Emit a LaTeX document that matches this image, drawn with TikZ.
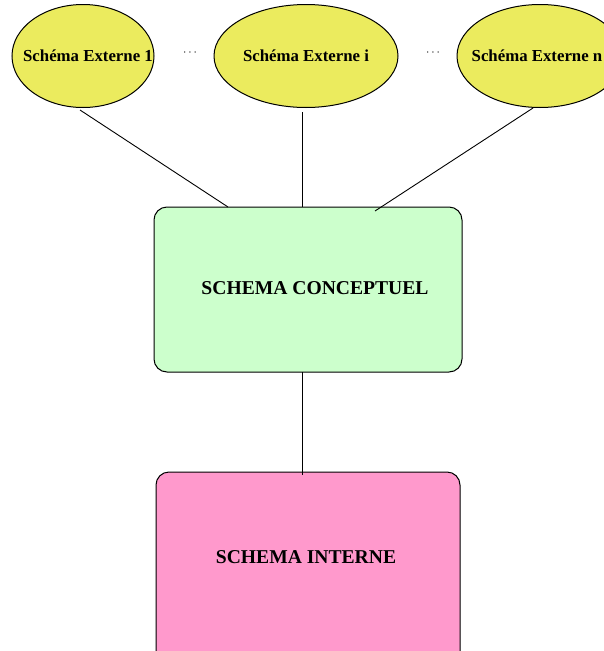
\documentclass[tikz,border=0pt]{standalone}
\usepackage{fontspec}
\setmainfont{Liberation Serif}
\usetikzlibrary{shapes.geometric}
\definecolor{extfill}{RGB}{235,235,94}
\definecolor{concfill}{RGB}{204,255,204}
\definecolor{intfill}{RGB}{255,153,204}
\tikzset{
  extfont/.style={font=\bfseries\fontsize{16.8}{19}\selectfont},
  extschema/.style={ellipse, draw, line width=1pt, fill=extfill, inner sep=0pt, extfont},
  levelfont/.style={font=\bfseries\fontsize{19.6}{22}\selectfont},
  levelbox/.style={rounded corners=13pt, draw, line width=1pt},
  link/.style={line width=0.9pt},
  gap/.style={font=\fontsize{13}{15}\selectfont},
}
\begin{document}
\begin{tikzpicture}[x=1pt,y=-1pt]
  \useasboundingbox (0,0) rectangle (604,651);
  % external schemas
  \node[extschema, minimum width=142pt, minimum height=103pt] (e1) at (83,56) {};
  \node[extfont] (t1) at (88,56) {Schéma Externe 1};
  \node[extschema, minimum width=184pt, minimum height=103pt] (ei) at (306,56) {Schéma Externe i};
  \node[extschema, minimum width=166pt, minimum height=103pt] (en) at (540,56) {};
  \node[extfont] (tn) at (537,56) {Schéma Externe n};
  \node[gap] (d1) at (190,53) {$\cdots$};
  \node[gap] (d2) at (433,53) {$\cdots$};
  % conceptual level
  \draw[levelbox, fill=concfill] (154,207) rectangle (462,372);
  \node[levelfont] (conc) at (315,288) {SCHEMA CONCEPTUEL};
  % internal level
  \draw[levelbox, fill=intfill] (156,472) rectangle (460,665);
  \node[levelfont] (int) at (306,557) {SCHEMA INTERNE};
  % attachment points of the connectors
  \coordinate (c1) at (228,207);
  \coordinate (c2) at (302,207);
  \coordinate (c3) at (375,211);
  \coordinate (c4) at (302,372);
  \coordinate (i1) at (302,475);
  \coordinate (a1) at (80,110);
  \coordinate (a2) at (302,112);
  \coordinate (a3) at (533,108);
  \draw[link] (a1) -- (c1);
  \draw[link] (a2) -- (c2);
  \draw[link] (a3) -- (c3);
  \draw[link] (c4) -- (i1);
\end{tikzpicture}
\end{document}
